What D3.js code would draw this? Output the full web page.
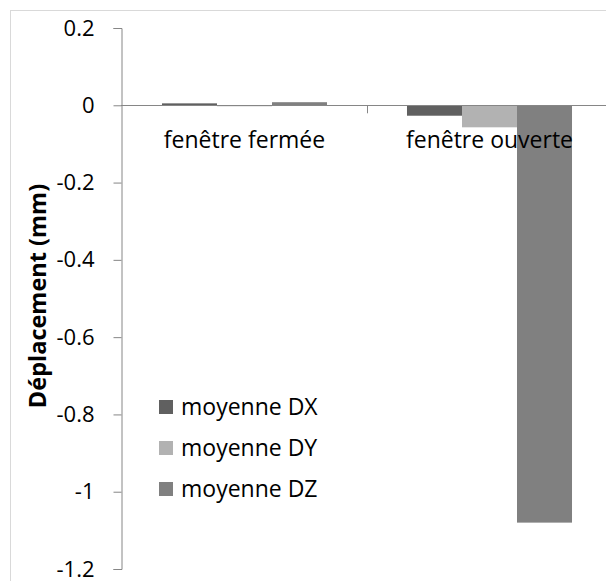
<!DOCTYPE html>
<html><head><meta charset="utf-8">
<script src="https://cdn.jsdelivr.net/npm/d3@7"></script>
<style>body{margin:0;background:#fff}svg{display:block}text{font-family:"Open Sans",sans-serif}</style>
</head><body><svg id="c" width="606" height="581"></svg>
<script>
const categories = ["fenêtre fermée", "fenêtre ouverte"];
const seriesNames = ["moyenne DX", "moyenne DY", "moyenne DZ"];
const dx = [0.005, -0.027];
const dy = [-0.002, -0.057];
const dz = [0.008, -1.08];
const yTicks = [0.2, 0, -0.2, -0.4, -0.6, -0.8, -1, -1.2];
const colors = ["#606060", "#b2b2b2", "#808080"];

const seriesValues = [dx, dy, dz];
const svg = d3.select("#c");

svg.append("rect").attr("x", 10.5).attr("y", 10.5).attr("width", 700).attr("height", 700)
  .attr("fill", "none").attr("stroke", "#d9d9d9");

const y = d3.scaleLinear().domain([-1.2, 0.2]).range([569, 28]);
const x0 = d3.scaleBand().domain(categories).range([122, 612]).paddingInner(0).paddingOuter(0);
const x1 = d3.scaleBand().domain(seriesNames).range([0, x0.bandwidth()]).paddingInner(0).paddingOuter(0.727);

categories.forEach((c, ci) => {
  seriesNames.forEach((s, si) => {
    const v = seriesValues[si][ci];
    svg.append("rect")
      .attr("x", x0(c) + x1(s))
      .attr("width", x1.bandwidth())
      .attr("y", y(Math.max(0, v)))
      .attr("height", Math.max(1, Math.abs(y(v) - y(0))))
      .attr("fill", colors[si]);
  });
});

const yAxis = d3.axisLeft(y).tickValues(yTicks).tickSize(8).tickPadding(19)
  .tickFormat(d => d === 0 ? "0" : String(d));
const ya = svg.append("g").attr("transform", "translate(121.5,0)").call(yAxis);
ya.select(".domain").attr("stroke", "#868686");
ya.selectAll(".tick line").attr("stroke", "#868686");
ya.selectAll(".tick text").attr("font-size", 22).attr("fill", "#000").attr("font-family", "Open Sans");

svg.append("line").attr("x1", 121).attr("x2", 612).attr("y1", Math.round(y(0)) + 0.5).attr("y2", Math.round(y(0)) + 0.5)
  .attr("stroke", "#868686");
x0.domain().slice(1).forEach(c => {
  svg.append("line").attr("x1", Math.round(x0(c)) + 0.5).attr("x2", Math.round(x0(c)) + 0.5)
    .attr("y1", y(0)).attr("y2", y(0) + 8).attr("stroke", "#868686");
});
svg.selectAll(".cat").data(categories).enter().append("text")
  .attr("x", d => x0(d) + x0.bandwidth() / 2)
  .attr("y", 147.5).attr("text-anchor", "middle").attr("font-size", 23).attr("fill", "#000")
  .text(d => d);

svg.append("text").attr("transform", "translate(46,296) rotate(-90)")
  .attr("text-anchor", "middle").attr("font-size", 23.5).attr("font-weight", "bold").attr("fill", "#000")
  .text("Déplacement (mm)");

const lg = svg.append("g");
seriesNames.forEach((s, i) => {
  const yy = 407 + i * 41;
  lg.append("rect").attr("x", 159).attr("y", yy - 7).attr("width", 14).attr("height", 14).attr("fill", colors[i]);
  lg.append("text").attr("x", 181).attr("y", yy + 7.5).attr("font-size", 23).attr("fill", "#000").text(s);
});
</script></body></html>
